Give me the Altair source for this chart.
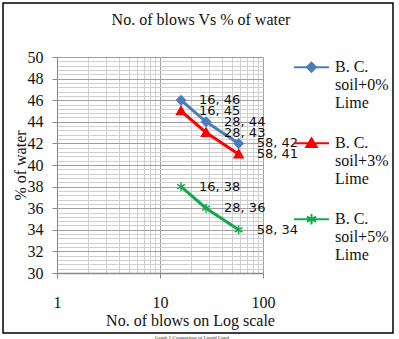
import altair as alt
import pandas as pd

# ---- data ----
blows = [16, 28, 58]
water_0 = [46, 44, 42]
water_3 = [45, 43, 41]
water_5 = [38, 36, 34]
series = ["B. C.|soil+0%|Lime", "B. C.|soil+3%|Lime", "B. C.|soil+5%|Lime"]
colors = ["#4A7EBB", "#FF0000", "#13A84D"]
x_ticks = [1, 2, 3, 4, 5, 6, 7, 8, 9, 10, 20, 30, 40, 50, 60, 70, 80, 90, 100]
y_ticks = [round(30 + 0.4 * i, 1) for i in range(51)]

rows = []
for s, vals in zip(series, [water_0, water_3, water_5]):
    for b, w in zip(blows, vals):
        rows.append({"series": s, "blows": b, "water": w, "label": f"{b}, {w}"})
df = pd.DataFrame(rows)

# marker shapes
diamond = "M0,-1L1,0L0,1L-1,0Z"
triangle = "M0,-1L1,0.8L-1,0.8Z"
asterisk = "M0,-1L0,1M-0.87,-0.5L0.87,0.5M-0.87,0.5L0.87,-0.5"
# legend symbols: line + marker
leg_diamond = "M-1,0.5L1,0.5M0,0.24L0.26,0.5L0,0.76L-0.26,0.5Z"
leg_triangle = "M-1,0.5L1,0.5M0,0.22L0.3,0.72L-0.3,0.72Z"
leg_asterisk = "M-1,0.5L1,0.5M0,0.2L0,0.8M-0.26,0.35L0.26,0.65M-0.26,0.65L0.26,0.35"

serif = "Liberation Serif"
major_x = "datum.value == 1 || datum.value == 10 || datum.value == 100"
major_y = "round(datum.value * 10) % 20 == 0"

x_axis = alt.Axis(
    values=x_ticks, title="No. of blows  on Log scale",
    labelExpr=f"({major_x}) ? format(datum.value, 'd') : ''",
    labelOverlap=False, labelFlush=False,
    gridColor={"condition": {"test": major_x, "value": "#a0a0a0"}, "value": "#cfcfcf"},
    tickOpacity={"condition": {"test": major_x, "value": 1}, "value": 0},
    tickColor="#888", tickSize=5, domainColor="#888", domainWidth=1.5,
    labelFont=serif, labelFontSize=16, labelColor="#111", labelPadding=16,
    titleFont=serif, titleFontSize=16, titleFontWeight="normal", titleColor="#111",
    titleX=133, titleY=47, titleBaseline="middle",
)
y_axis = alt.Axis(
    values=y_ticks, title="% of water",
    labelExpr=f"({major_y}) ? format(datum.value, 'd') : ''",
    labelOverlap=False, labelFlush=False,
    gridColor={"condition": {"test": major_y, "value": "#a0a0a0"}, "value": "#cfcfcf"},
    tickOpacity={"condition": {"test": major_y, "value": 1}, "value": 0},
    tickColor="#888", tickSize=5, domainColor="#888",
    labelFont=serif, labelFontSize=16, labelColor="#111", labelPadding=9,
    titleFont=serif, titleFontSize=16, titleFontWeight="normal", titleColor="#111",
    titleX=-37, titleY=108, titleBaseline="middle", titleAngle=-90,
)

x_enc = alt.X("blows:Q", scale=alt.Scale(type="log", domain=[1, 100], nice=False), axis=x_axis)
y_enc = alt.Y("water:Q", scale=alt.Scale(domain=[30, 50], nice=False, zero=False), axis=y_axis)

cscale = alt.Scale(domain=series, range=colors)

base = alt.Chart(df).encode(x=x_enc, y=y_enc)

lines = base.mark_line(strokeWidth=3).encode(
    color=alt.Color("series:N", scale=cscale, legend=None)
)
points = base.mark_point(filled=True, size=80, strokeWidth=1.5, opacity=1).encode(
    color=alt.Color("series:N", scale=cscale, legend=None),
    stroke=alt.Stroke("series:N", scale=cscale, legend=None),
    shape=alt.Shape("series:N", scale=alt.Scale(domain=series, range=[diamond, triangle, asterisk]), legend=None),
)
labels = base.mark_text(align="left", baseline="middle", dx=18, font="DejaVu Sans",
                        fontSize=13, color="#111").encode(text="label:N")

leg = alt.Legend(
    orient="none", legendX=236, legendY=-17, title=None, padding=0,
    symbolSize=1225, symbolStrokeWidth=2, symbolOffset=0,
    labelFont=serif, labelFontSize=16, labelColor="#111", labelLimit=0,
    labelExpr="split(datum.label, '|')", labelBaseline="top", labelOffset=5,
    rowPadding=5,
)
legend_layer = alt.Chart(df).transform_filter("false").mark_point(filled=True, opacity=1).encode(
    x=x_enc, y=y_enc,
    color=alt.Color("series:N", scale=cscale, legend=leg),
    stroke=alt.Stroke("series:N", scale=cscale, legend=leg),
    shape=alt.Shape("series:N", scale=alt.Scale(domain=series, range=[leg_diamond, leg_triangle, leg_asterisk]), legend=leg),
)

one = pd.DataFrame({"a": [0]})
frame = alt.Chart(one).mark_rect(fillOpacity=0, stroke="#000", strokeWidth=1.5).encode(
    x=alt.value(-54), x2=alt.value(336), y=alt.value(-54), y2=alt.value(276)
)
caption = alt.Chart(one).mark_text(fontSize=5, font=serif, color="#333", baseline="top").encode(
    x=alt.value(135), y=alt.value(277.5), text=alt.value("Graph 2 Comparison of Liquid Limit")
)

chart = alt.layer(lines, points, labels, legend_layer, frame, caption).resolve_scale(
    color="independent", shape="independent", stroke="independent"
).properties(
    width=206, height=216,
    padding={"left": 57, "top": 57, "right": 136, "bottom": 66},
    autosize=alt.AutoSizeParams(type="none"),
    title=alt.TitleParams("No. of blows Vs % of water", font=serif, fontSize=16,
                          fontWeight="normal", color="#111", anchor="middle", dx=41, dy=30),
    background="white",
).configure_view(strokeWidth=0).configure_axis(labelFont=serif, titleFont=serif)

chart.save("out.html", embed_options={"renderer": "svg", "actions": False})
